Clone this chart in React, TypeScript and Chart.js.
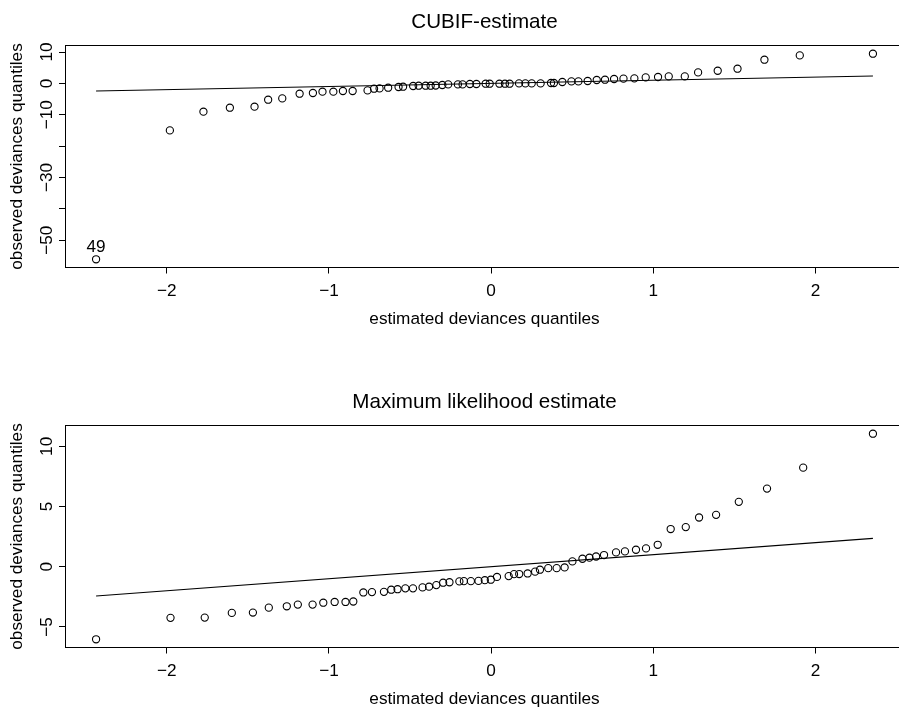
import React, { useEffect, useRef } from "react";
import { Chart, registerables } from "chart.js";

Chart.register(...registerables);

const FONT = '"Liberation Sans", Arial, Helvetica, sans-serif';

// ---------- data ----------
const xAxisTitle = "estimated deviances quantiles";
const yAxisTitle = "observed deviances quantiles";
const xTicks = [-2, -1, 0, 1, 2];

// Top panel: CUBIF-estimate
const cubifTitle = "CUBIF-estimate";
const cubifX = [
  -2.436, -1.981, -1.774, -1.611, -1.459, -1.375, -1.288, -1.181, -1.099, -1.04,
  -0.973, -0.914, -0.854, -0.762, -0.722, -0.688, -0.635, -0.571, -0.543, -0.481,
  -0.447, -0.404, -0.373, -0.342, -0.301, -0.265, -0.205, -0.176, -0.131, -0.091,
  -0.034, -0.009, 0.051, 0.085, 0.114, 0.172, 0.211, 0.25, 0.305, 0.369,
  0.387, 0.439, 0.495, 0.538, 0.595, 0.651, 0.702, 0.758, 0.816, 0.883,
  0.953, 1.029, 1.095, 1.194, 1.276, 1.397, 1.519, 1.685, 1.903, 2.354,
];
const cubifY = [
  -56.05, -14.97, -9.01, -7.74, -7.42, -5.19, -4.78, -3.28, -3.06, -2.64,
  -2.64, -2.42, -2.42, -2.23, -1.69, -1.59, -1.37, -1.15, -1.05, -0.83,
  -0.73, -0.73, -0.73, -0.67, -0.51, -0.32, -0.32, -0.32, -0.19, -0.19,
  -0.1, -0.1, -0.1, -0.1, -0.1, 0.0, 0.0, 0.0, 0.0, 0.13,
  0.13, 0.45, 0.64, 0.64, 0.76, 1.08, 1.18, 1.4, 1.52, 1.6,
  1.91, 2.04, 2.23, 2.23, 3.5, 4.04, 4.68, 7.55, 8.92, 9.46,
];
const cubifYTicks = [-50, -40, -30, -20, -10, 0, 10];
const cubifYLabels = [-50, -30, -10, 0, 10];
const cubifPointLabels = [{ index: 0, text: "49" }];

// Bottom panel: Maximum likelihood estimate
const mleTitle = "Maximum likelihood estimate";
const mleX = [
  -2.436, -1.977, -1.766, -1.599, -1.469, -1.371, -1.26, -1.192, -1.101, -1.035,
  -0.965, -0.898, -0.85, -0.788, -0.735, -0.661, -0.616, -0.577, -0.529, -0.482,
  -0.423, -0.383, -0.338, -0.296, -0.257, -0.196, -0.168, -0.125, -0.078, -0.039,
  -0.002, 0.036, 0.108, 0.141, 0.173, 0.225, 0.271, 0.301, 0.352, 0.404,
  0.453, 0.501, 0.563, 0.606, 0.647, 0.696, 0.77, 0.825, 0.893, 0.955,
  1.027, 1.107, 1.2, 1.282, 1.387, 1.527, 1.701, 1.924, 2.354,
];
const mleY = [
  -6.03, -4.25, -4.23, -3.84, -3.81, -3.4, -3.29, -3.15, -3.15, -2.99,
  -2.93, -2.93, -2.89, -2.14, -2.11, -2.09, -1.91, -1.87, -1.8, -1.8,
  -1.72, -1.66, -1.53, -1.33, -1.29, -1.22, -1.2, -1.2, -1.18, -1.12,
  -1.08, -0.85, -0.78, -0.62, -0.61, -0.56, -0.41, -0.25, -0.12, -0.12,
  -0.06, 0.44, 0.66, 0.75, 0.85, 0.97, 1.19, 1.27, 1.41, 1.52,
  1.82, 3.13, 3.29, 4.09, 4.31, 5.39, 6.49, 8.23, 11.05,
];
const mleYTicks = [-5, 0, 5, 10];
const mleYLabels = [-5, 0, 5, 10];
const mlePointLabels: { index: number; text: string }[] = [];

// ---------- layout constants ----------
const CANVAS_W = 910;
const CANVAS_H = 330;
const PLOT_LEFT = 65;
const RIGHT_PAD = 6;
const XAXIS_H = 62.5;
const TICK_LEN = 6;
const BASE_SIZE = 17.2;
const TITLE_SIZE = 20.6;
const YLABEL_CENTER = 47.7;

const fmt = (v: number) => (v < 0 ? "\u2212" + Math.abs(v) : String(v));

const extend = (arr: number[]) => {
  const mn = Math.min(...arr);
  const mx = Math.max(...arr);
  const d = (mx - mn) * 0.04;
  return [mn - d, mx + d];
};

const measureWidest = (labels: string[]) => {
  const c = document.createElement("canvas").getContext("2d");
  if (!c) return 0;
  c.font = `normal ${BASE_SIZE}px ${FONT}`;
  return Math.max(0, ...labels.map((l) => c.measureText(l).width));
};

type PanelProps = {
  title: string;
  xs: number[];
  ys: number[];
  yTicks: number[];
  yLabels: number[];
  pointLabels: { index: number; text: string }[];
  top: number;
};

function Panel({ title, xs, ys, yTicks, yLabels, pointLabels, top }: PanelProps) {
  const ref = useRef<HTMLCanvasElement | null>(null);

  useEffect(() => {
    if (!ref.current) return;
    const [xMin, xMax] = extend(xs);
    const [yMin, yMax] = extend(ys);
    const lo = Math.min(...xs);
    const hi = Math.max(...xs);
    const points = xs.map((x, i) => ({ x, y: ys[i] }));
    const widest = measureWidest(yLabels.map(fmt));
    const yTickPad = PLOT_LEFT - TICK_LEN - YLABEL_CENTER - widest / 2;

    const boxPlugin = {
      id: "rbox",
      afterDraw(chart: any) {
        const { ctx, chartArea } = chart;
        ctx.save();
        ctx.strokeStyle = "#000";
        ctx.lineWidth = 1;
        const l = Math.floor(chartArea.left) + 0.5;
        const t = Math.floor(chartArea.top) + 0.5;
        const r = Math.floor(chartArea.right) + 0.5;
        const b = Math.floor(chartArea.bottom) + 0.5;
        ctx.strokeRect(l, t, r - l, b - t);
        // point labels
        const meta = chart.getDatasetMeta(1);
        ctx.fillStyle = "#000";
        ctx.font = `normal ${BASE_SIZE}px ${FONT}`;
        ctx.textAlign = "center";
        ctx.textBaseline = "alphabetic";
        for (const pl of pointLabels) {
          const el = meta.data[pl.index];
          if (el) ctx.fillText(pl.text, el.x, el.y - 7);
        }
        ctx.restore();
      },
    };

    const chart = new Chart(ref.current, {
      type: "scatter",
      data: {
        datasets: [
          {
            type: "line",
            data: [
              { x: lo, y: lo },
              { x: hi, y: hi },
            ],
            borderColor: "#000",
            borderWidth: 1.1,
            pointRadius: 0,
            fill: false,
          } as any,
          {
            type: "scatter",
            data: points,
            pointStyle: "circle",
            pointRadius: 3.6,
            pointHoverRadius: 3.6,
            borderWidth: 1.1,
            borderColor: "#000",
            backgroundColor: "rgba(0,0,0,0)",
          },
        ],
      },
      options: {
        responsive: false,
        animation: false,
        devicePixelRatio: 1,
        layout: {
          autoPadding: false,
          padding: { left: 0, right: RIGHT_PAD, top: 0, bottom: 0 },
        },
        plugins: {
          legend: { display: false },
          tooltip: { enabled: false },
          title: {
            display: true,
            text: title,
            fullSize: false,
            color: "#000",
            font: { family: FONT, size: TITLE_SIZE, weight: "normal", lineHeight: 1 },
            padding: { top: 11.6, bottom: 13.3 },
          },
        },
        scales: {
          x: {
            type: "linear",
            position: "bottom",
            min: xMin,
            max: xMax,
            afterBuildTicks: (axis: any) => {
              axis.ticks = xTicks.map((v) => ({ value: v }));
            },
            afterFit: (axis: any) => {
              axis.height = XAXIS_H;
            },
            border: { display: false },
            grid: {
              display: true,
              drawOnChartArea: false,
              drawTicks: true,
              tickLength: TICK_LEN,
              tickColor: "#000",
              tickWidth: 1,
            },
            ticks: {
              autoSkip: false,
              maxRotation: 0,
              minRotation: 0,
              color: "#000",
              padding: 7.6,
              font: { family: FONT, size: BASE_SIZE, lineHeight: 1.2 },
              callback: (v: any) => fmt(Number(v)),
            },
            title: {
              display: true,
              text: xAxisTitle,
              color: "#000",
              font: { family: FONT, size: BASE_SIZE, lineHeight: 1 },
              padding: { top: 0, bottom: 1.9 },
            },
          },
          y: {
            type: "linear",
            position: "left",
            min: yMin,
            max: yMax,
            afterBuildTicks: (axis: any) => {
              axis.ticks = yTicks.map((v) => ({ value: v }));
            },
            afterFit: (axis: any) => {
              axis.width = PLOT_LEFT;
            },
            border: { display: false },
            grid: {
              display: true,
              drawOnChartArea: false,
              drawTicks: true,
              tickLength: TICK_LEN,
              tickColor: "#000",
              tickWidth: 1,
            },
            ticks: {
              autoSkip: false,
              minRotation: 90,
              maxRotation: 90,
              crossAlign: "center",
              color: "#000",
              padding: yTickPad,
              font: { family: FONT, size: BASE_SIZE, lineHeight: 1.2 },
              callback: (v: any) => (yLabels.includes(Number(v)) ? fmt(Number(v)) : ""),
            },
            title: {
              display: true,
              text: yAxisTitle,
              color: "#000",
              font: { family: FONT, size: BASE_SIZE, lineHeight: 1 },
              padding: { top: 8.4, bottom: 0 },
            },
          },
        },
      } as any,
      plugins: [boxPlugin],
    });
    return () => chart.destroy();
  }, [title, xs, ys, yTicks, yLabels, pointLabels]);

  return (
    <canvas
      ref={ref}
      width={CANVAS_W}
      height={CANVAS_H}
      style={{ position: "absolute", left: 0, top, width: CANVAS_W, height: CANVAS_H, display: "block" }}
    />
  );
}

export default function App() {
  return (
    <div
      style={{
        position: "absolute",
        left: 0,
        top: 0,
        width: 899,
        height: 710,
        overflow: "hidden",
        background: "#fff",
      }}
    >
      <Panel
        title={cubifTitle}
        xs={cubifX}
        ys={cubifY}
        yTicks={cubifYTicks}
        yLabels={cubifYLabels}
        pointLabels={cubifPointLabels}
        top={0}
      />
      <Panel
        title={mleTitle}
        xs={mleX}
        ys={mleY}
        yTicks={mleYTicks}
        yLabels={mleYLabels}
        pointLabels={mlePointLabels}
        top={380}
      />
    </div>
  );
}
